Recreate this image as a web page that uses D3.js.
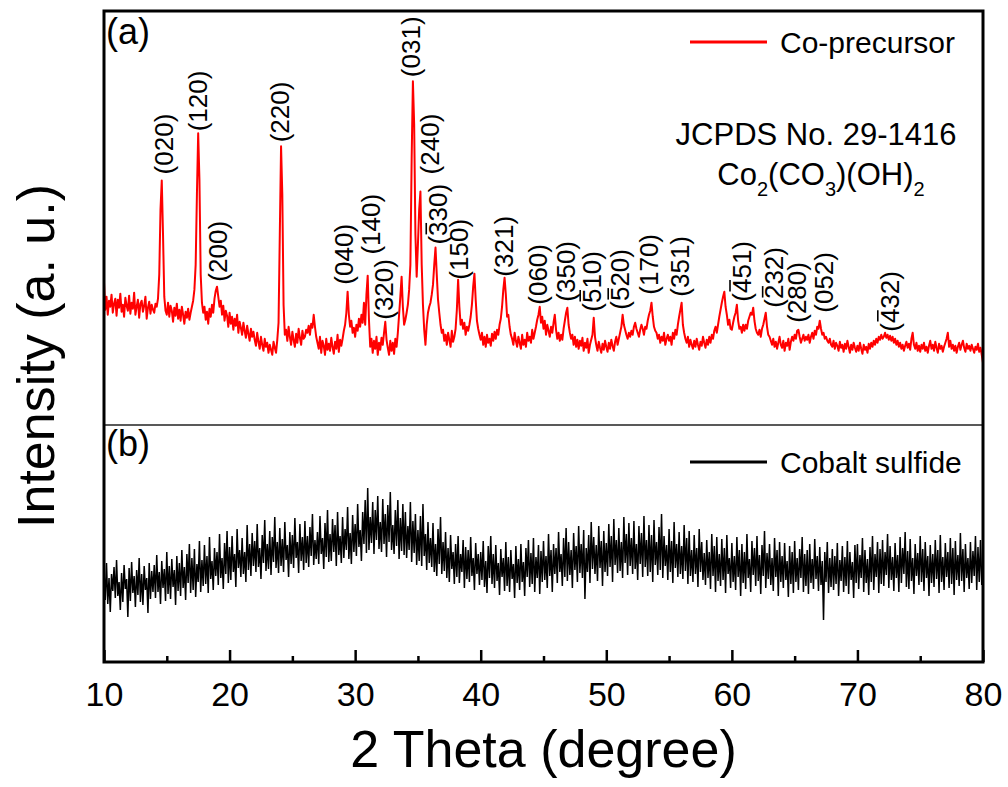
<!DOCTYPE html>
<html>
<head>
<meta charset="utf-8">
<script src="https://cdn.jsdelivr.net/npm/d3@7"></script>
<style>
  body { margin: 0; background: #fff; }
  svg { display: block; }
  text { font-family: Arial, "Liberation Sans", sans-serif; fill: #000; }
</style>
</head>
<body>
<svg id="chart" width="1008" height="787"></svg>
<script>
// Scan grid: 2θ from 10° to 80° in 0.1° steps
const thetaStart = 10;
const thetaStep = 0.1;

// (a) Co-precursor pattern, intensity in a.u. (one row per degree)
const precursorCounts = [
  142,115,128,110,124,118,130,112,121,126, // 10
  109,125,117,131,113,120,108,127,119,114, // 11
  129,111,122,116,132,110,118,125,107,121, // 12
  124,113,119,128,106,117,123,111,120,115, // 13
  112,121,118,126,150,215,244,190,128,114, // 14
  110,122,108,119,114,103,117,109,121,106, // 15
  115,104,118,110,101,113,107,116,105,112, // 16
  118,124,135,160,230,291,245,150,122,112, // 17
  118,105,113,101,116,108,120,112,126,134, // 18
  138,128,118,124,110,119,104,114,109,98,  // 19
  112,101,108,95,106,99,110,92,103,97,     // 20
  90,102,94,87,99,91,84,96,88,93,          // 21
  85,79,92,83,76,88,80,74,86,78,           // 22
  82,72,80,75,70,83,77,72,85,102,          // 23
  190,278,230,120,90,95,84,98,88,80,       // 24
  93,85,78,91,82,96,87,80,94,86,           // 25
  88,95,92,99,90,101,97,110,98,88,         // 26
  82,76,88,72,84,79,70,86,75,81,           // 27
  74,87,78,71,83,76,90,73,85,79,           // 28
  86,94,100,112,133,110,98,104,92,97,      // 29
  88,100,94,106,98,110,102,122,100,130,    // 30
  149,105,78,86,72,84,76,88,70,82,         // 31
  75,87,80,92,103,85,77,70,84,74,          // 32
  82,71,86,78,92,110,128,148,118,100,      // 33
  105,112,120,135,160,265,343,300,190,148, // 34
  180,215,233,160,120,95,80,100,112,118,   // 35
  122,130,140,160,177,150,125,112,100,92,  // 36
  95,84,90,80,92,85,78,94,83,88,           // 37
  96,115,145,118,100,105,96,102,90,98,     // 38
  94,100,108,120,138,151,125,104,96,90,    // 39
  85,92,80,88,78,90,82,86,79,91,           // 40
  84,93,86,95,90,100,106,118,135,147,      // 41
  130,108,110,98,90,86,80,92,84,78,        // 42
  88,82,76,90,80,85,78,92,84,88,           // 43
  82,95,86,92,98,105,110,118,102,108,      // 44
  96,104,90,100,94,88,98,92,102,110,       // 45
  95,86,92,84,90,85,96,104,112,117,        // 46
  100,92,86,90,80,88,78,85,76,84,          // 47
  79,87,74,82,77,86,72,80,85,90,           // 48
  107,88,80,74,83,77,72,81,75,84,          // 49
  78,73,82,76,85,79,74,83,88,80,           // 50
  86,92,98,110,100,95,90,86,92,88,         // 51
  94,90,98,102,96,92,88,95,100,96,         // 52
  90,98,96,104,110,114,122,108,98,94,      // 53
  92,86,90,82,88,84,92,80,86,90,           // 54
  84,88,80,92,86,95,90,100,108,115,        // 55
  122,100,92,86,82,88,78,85,80,76,         // 56
  84,78,86,80,75,83,79,88,82,77,           // 57
  85,80,88,82,90,86,94,98,92,100,          // 58
  108,115,122,128,133,118,110,100,105,96,  // 59
  95,102,108,112,120,104,96,98,92,100,     // 60
  94,100,96,104,108,112,110,117,104,96,    // 61
  92,90,95,88,96,100,106,112,98,90,        // 62
  88,84,80,86,78,83,76,82,88,80,           // 63
  77,84,74,82,79,86,75,83,88,84,           // 64
  90,86,94,95,88,82,86,90,84,88,           // 65
  85,90,82,88,92,86,94,90,98,96,           // 66
  104,96,90,92,86,88,84,82,86,80,          // 67
  78,84,76,82,79,74,83,77,80,73,           // 68
  81,76,84,78,72,80,75,82,77,73,           // 69
  79,74,82,76,71,80,75,78,72,81,           // 70
  76,82,78,84,80,86,82,88,85,90,           // 71
  86,88,92,87,90,85,89,84,88,82,           // 72
  86,80,84,78,82,76,80,74,79,83,           // 73
  77,81,75,86,92,80,76,82,74,79,           // 74
  73,80,76,82,74,78,72,79,84,76,           // 75
  80,74,83,77,72,81,76,79,73,78,           // 76
  82,86,92,78,84,76,80,74,79,72,           // 77
  78,82,75,80,84,77,73,81,76,79,           // 78
  74,80,76,72,78,75,81,73,77,70,           // 79
  62                                       // 80
];

// (b) Cobalt sulfide pattern, intensity in a.u.
const sulfideCounts = [
  91,62,99,58,84,50,88,71,95,64,       // 10
  102,66,80,52,89,60,97,73,83,45,      // 11
  94,61,100,69,86,55,92,67,104,60,     // 12
  88,57,96,72,84,49,99,63,91,70,       // 13
  97,64,107,70,90,58,101,74,93,61,     // 14
  110,68,96,63,103,75,92,57,106,71,    // 15
  99,66,112,74,95,62,108,79,118,69,    // 16
  104,72,113,65,98,80,121,70,102,76,   // 17
  117,78,106,69,125,83,101,72,114,86,  // 18
  110,77,128,84,104,73,119,88,131,79,  // 19
  115,82,126,90,108,75,133,94,112,85,  // 20
  124,88,110,80,137,92,118,86,129,96,  // 21
  121,90,138,95,114,83,127,99,142,91,  // 22
  118,93,131,87,125,100,145,94,120,89, // 23
  134,96,123,90,140,102,117,85,130,98, // 24
  127,94,144,104,120,89,138,101,125,92,   // 25
  141,99,126,95,135,106,148,97,122,103,   // 26
  130,98,146,108,124,93,139,105,152,100,  // 27
  128,101,143,110,137,96,150,107,126,99,  // 28
  145,104,133,112,155,103,129,98,147,110, // 29
  138,106,158,115,132,101,150,118,162,109,// 30
  174,112,145,119,160,108,152,122,166,113,// 31
  140,110,163,118,148,105,157,120,170,112,// 32
  137,108,152,116,162,103,144,111,158,107,// 33
  150,104,136,112,160,100,141,109,148,97, // 34
  132,101,146,96,158,106,128,92,140,99,   // 35
  124,95,139,90,118,86,133,98,145,88,     // 36
  120,91,130,84,114,80,127,93,110,78,     // 37
  118,85,126,79,108,90,122,74,115,83,     // 38
  112,80,125,86,104,72,119,88,108,77,     // 39
  110,82,121,75,101,69,116,84,126,78,     // 40
  108,74,117,81,99,67,113,85,104,71,      // 41
  120,76,105,70,112,83,98,64,116,79,      // 42
  103,72,118,80,100,66,114,85,122,75,     // 43
  109,78,124,70,105,84,117,68,111,80,     // 44
  121,82,106,74,128,86,112,70,118,88,     // 45
  114,79,130,90,108,76,124,85,134,81,     // 46
  120,87,112,74,129,92,116,80,136,89,     // 47
  118,84,132,63,114,90,127,79,140,93,     // 48
  125,88,117,81,136,94,121,76,131,90,     // 49
  119,86,138,95,126,80,143,97,122,89,     // 50
  134,91,120,84,145,99,128,87,139,96,     // 51
  124,88,141,93,118,82,136,98,129,85,     // 52
  146,95,122,86,137,90,127,80,142,97,     // 53
  120,87,135,92,148,84,126,96,117,82,     // 54
  133,90,121,79,140,94,118,85,130,88,     // 55
  116,83,137,91,124,78,131,86,112,80,     // 56
  127,88,114,75,133,90,120,82,109,77,     // 57
  122,84,110,73,128,86,116,70,125,81,     // 58
  108,76,123,82,114,69,127,88,104,74,     // 59
  119,80,106,72,125,85,112,66,118,79,     // 60
  110,73,128,84,103,70,121,87,114,76,     // 61
  126,81,107,68,117,86,131,74,109,83,     // 62
  118,77,104,71,124,85,112,66,120,80,     // 63
  106,74,119,82,101,65,116,78,110,69,     // 64
  121,80,104,72,113,84,125,70,108,76,     // 65
  112,68,118,79,103,73,123,83,106,71,     // 66
  115,77,101,42,110,80,120,69,104,75,     // 67
  113,72,106,78,119,66,102,81,116,70,     // 68
  105,76,121,68,110,82,100,64,117,79,     // 69
  118,73,107,84,124,70,112,79,103,67,     // 70
  115,80,126,72,108,85,120,69,113,78,     // 71
  122,76,110,87,128,74,116,82,105,71,     // 72
  119,84,107,70,125,79,114,88,130,75,     // 73
  111,73,123,81,104,68,118,86,109,77,     // 74
  126,80,113,71,120,84,106,66,117,79,     // 75
  108,75,122,83,112,69,127,80,105,72,     // 76
  119,85,110,74,124,78,114,67,121,82,     // 77
  107,76,129,81,113,70,118,84,104,73,     // 78
  120,79,111,86,126,72,115,80,122,77,     // 79
  98                                      // 80
];

const xTicks = [10, 20, 30, 40, 50, 60, 70, 80];
const xMinorTicks = [15, 25, 35, 45, 55, 65, 75];

// Miller indices of Co2(CO3)(OH)2 reflections; "bar" marks the negative index
const peakLabels = [
  { hkl: "(020)", theta: 14.94, level: 250, bar: null },
  { hkl: "(120)", theta: 17.65, level: 293, bar: null },
  { hkl: "(200)", theta: 19.24, level: 143, bar: null },
  { hkl: "(220)", theta: 24.18, level: 282, bar: null },
  { hkl: "(040)", theta: 29.27, level: 140, bar: null },
  { hkl: "(140)", theta: 31.42, level: 170, bar: null },
  { hkl: "(320)", theta: 32.46, level: 105, bar: null },
  { hkl: "(031)", theta: 34.61, level: 347, bar: null },
  { hkl: "(240)", theta: 36.12, level: 250, bar: null },
  { hkl: "(330)", theta: 36.76, level: 180, bar: 1 },
  { hkl: "(150)", theta: 38.43, level: 145, bar: null },
  { hkl: "(321)", theta: 42.01, level: 148, bar: null },
  { hkl: "(060)", theta: 44.72, level: 120, bar: null },
  { hkl: "(350)", theta: 46.95, level: 123, bar: null },
  { hkl: "(510)", theta: 49.02, level: 113, bar: 1 },
  { hkl: "(520)", theta: 51.25, level: 115, bar: 1 },
  { hkl: "(170)", theta: 53.56, level: 130, bar: null },
  { hkl: "(351)", theta: 56.03, level: 128, bar: null },
  { hkl: "(451)", theta: 60.95, level: 123, bar: 1 },
  { hkl: "(232)", theta: 63.55, level: 117, bar: 1 },
  { hkl: "(280)", theta: 65.35, level: 102, bar: null },
  { hkl: "(052)", theta: 67.50, level: 112, bar: null },
  { hkl: "(432)", theta: 72.72, level: 93, bar: 1 }
];

const seriesNames = ["Co-precursor", "Cobalt sulfide"];
const seriesColors = ["#ff0000", "#000000"];

(function draw() {
  const svg = d3.select("#chart");
  const plotLeft = 104, plotRight = 983, plotTop = 11, plotBottom = 662, split = 425;

  svg.append("rect").attr("width", 1008).attr("height", 787).attr("fill", "#fff");

  const x = d3.scaleLinear().domain([10, 80]).range([plotLeft, plotRight]);
  const yTop = d3.scaleLinear().domain([0, 413]).range([split, plotTop]);
  const yBot = d3.scaleLinear().domain([0, 237]).range([plotBottom, split]);
  const theta = i => thetaStart + i * thetaStep;

  // patterns
  svg.append("path")
    .datum(sulfideCounts)
    .attr("fill", "none")
    .attr("stroke", seriesColors[1])
    .attr("stroke-width", 1.5)
    .attr("d", d3.line().x((d, i) => x(theta(i))).y(d => yBot(d)));

  svg.append("path")
    .datum(precursorCounts)
    .attr("fill", "none")
    .attr("stroke", seriesColors[0])
    .attr("stroke-width", 2)
    .attr("stroke-linejoin", "round")
    .attr("d", d3.line().x((d, i) => x(theta(i))).y(d => yTop(d)));

  // divider between panels
  svg.append("line")
    .attr("x1", plotLeft).attr("x2", plotRight)
    .attr("y1", split).attr("y2", split)
    .attr("stroke", "#222").attr("stroke-width", 1.6);

  // frame
  svg.append("rect")
    .attr("x", plotLeft).attr("y", plotTop)
    .attr("width", plotRight - plotLeft).attr("height", plotBottom - plotTop)
    .attr("fill", "none").attr("stroke", "#000").attr("stroke-width", 3);

  // x axis: inward major and minor ticks
  const axisG = svg.append("g").attr("transform", `translate(0,${plotBottom})`)
    .call(d3.axisBottom(x).tickValues(xTicks).tickSize(-12).tickPadding(20).tickFormat(d3.format("d")));
  axisG.select(".domain").remove();
  axisG.selectAll(".tick line").attr("stroke", "#000").attr("stroke-width", 2.5);
  axisG.selectAll(".tick text").attr("font-size", 34)
    .attr("font-family", "Arial, 'Liberation Sans', sans-serif").attr("fill", "#000");

  const minorG = svg.append("g").attr("transform", `translate(0,${plotBottom})`)
    .call(d3.axisBottom(x).tickValues(xMinorTicks).tickSize(-6).tickFormat(""));
  minorG.select(".domain").remove();
  minorG.selectAll(".tick line").attr("stroke", "#000").attr("stroke-width", 2.5);

  // axis titles
  svg.append("text")
    .attr("x", (plotLeft + plotRight) / 2).attr("y", 767)
    .attr("text-anchor", "middle").attr("font-size", 52)
    .text("2 Theta (degree)");

  svg.append("text")
    .attr("transform", "translate(54,356) rotate(-90)")
    .attr("text-anchor", "middle").attr("font-size", 52)
    .text("Intensity (a. u.)");

  // panel tags
  svg.append("text").attr("x", 106).attr("y", 44).attr("font-size", 36).text("(a)");
  svg.append("text").attr("x", 106).attr("y", 456).attr("font-size", 36).text("(b)");

  // legends
  const legendY = [42, 462];
  seriesNames.forEach((name, k) => {
    svg.append("line")
      .attr("x1", 690).attr("x2", 767)
      .attr("y1", legendY[k]).attr("y2", legendY[k])
      .attr("stroke", seriesColors[k]).attr("stroke-width", 3);
    svg.append("text")
      .attr("x", 780).attr("y", legendY[k] + 11)
      .attr("font-size", 30)
      .text(name);
  });

  // reference card
  svg.append("text")
    .attr("x", 816).attr("y", 145).attr("text-anchor", "middle").attr("font-size", 31)
    .text("JCPDS No. 29-1416");
  const formula = svg.append("text")
    .attr("x", 821).attr("y", 185).attr("text-anchor", "middle").attr("font-size", 31);
  [["Co", 0], ["2", 1], ["(CO", 0], ["3", 1], [")(OH)", 0], ["2", 1]].forEach(([s, sub], k, arr) => {
    const prevSub = k > 0 ? arr[k - 1][1] : 0;
    formula.append("tspan")
      .attr("font-size", sub ? 20 : 31)
      .attr("dy", sub && !prevSub ? 11 : (!sub && prevSub ? -11 : 0))
      .text(s);
  });

  // reflection labels
  const fs = 26;
  const labels = svg.append("g").selectAll("g")
    .data(peakLabels)
    .join("g")
    .attr("transform", d => `translate(${x(d.theta)},${yTop(d.level)}) rotate(-90)`);
  labels.append("text")
    .attr("font-size", fs)
    .attr("y", fs * 0.27)
    .text(d => d.hkl);
  labels.each(function (d) {
    if (d.bar == null) return;
    const node = d3.select(this).select("text").node();
    const ext = node.getExtentOfChar(d.bar);
    const yb = fs * 0.27 - fs * 0.80;
    d3.select(this).append("line")
      .attr("x1", ext.x + 1.5).attr("x2", ext.x + ext.width - 1.5)
      .attr("y1", yb).attr("y2", yb)
      .attr("stroke", "#000").attr("stroke-width", 1.6);
  });
})();
</script>
</body>
</html>
